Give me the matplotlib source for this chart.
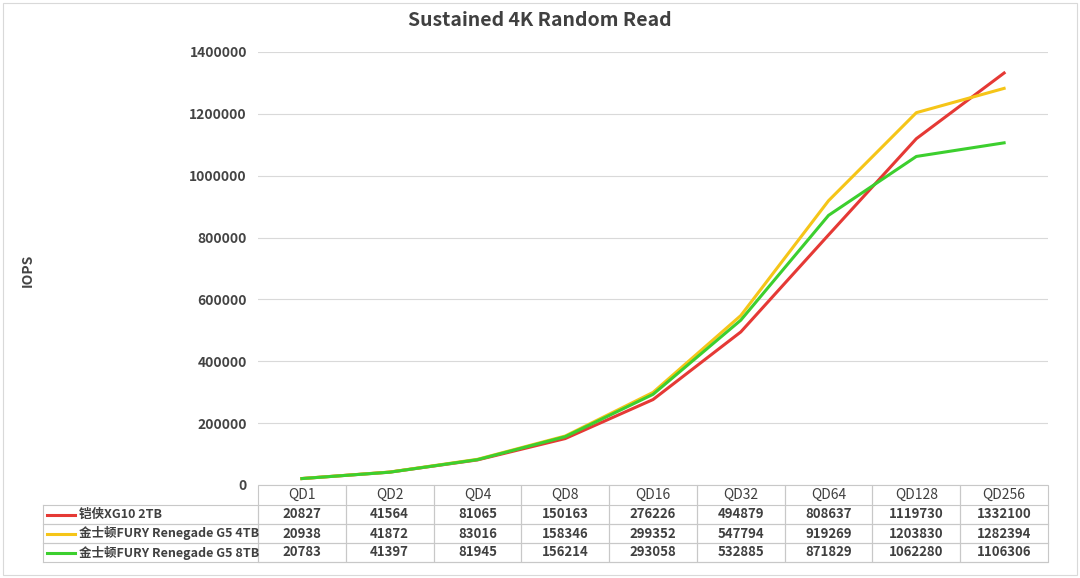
import matplotlib
matplotlib.use("Agg")
import matplotlib.pyplot as plt
import numpy as np

plt.rcParams['font.family'] = ['Noto Sans CJK SC', 'DejaVu Sans']

categories = ["QD1", "QD2", "QD4", "QD8", "QD16", "QD32", "QD64", "QD128", "QD256"]
names = ["铠侠XG10 2TB", "金士顿FURY Renegade G5 4TB", "金士顿FURY Renegade G5 8TB"]
xg10 = [20827, 41564, 81065, 150163, 276226, 494879, 808637, 1119730, 1332100]
g5_4tb = [20938, 41872, 83016, 158346, 299352, 547794, 919269, 1203830, 1282394]
g5_8tb = [20783, 41397, 81945, 156214, 293058, 532885, 871829, 1062280, 1106306]
colors = ["#e53935", "#f5c518", "#3ccf2e"]
series = [xg10, g5_4tb, g5_8tb]

fig = plt.figure(figsize=(10.8, 5.78), dpi=100)
W, H = 1080, 578
ax = fig.add_axes([258/W, 1-485/H, 790/W, 433/H])
x = np.arange(len(categories))
for s, c in zip(series, colors):
    ax.plot(x, s, color=c, lw=2.2)
ax.set_xlim(-0.5, len(categories)-0.5)
ax.set_ylim(0, 1400000)
ax.set_yticks(np.arange(0, 1400001, 200000))
ax.set_yticklabels([str(v) for v in range(0, 1400001, 200000)], fontsize=10, fontweight='bold', color='#444444')
ax.set_xticks([])
ax.grid(axis='y', color='#d9d9d9', lw=0.8)
ax.set_axisbelow(True)
for sp in ax.spines.values():
    sp.set_visible(False)
ax.tick_params(axis='y', length=0, pad=8)
fig.text(28/W, 1-270/H, "IOPS", rotation=90, ha='center', va='center', fontsize=10, fontweight='bold', color='#444444')
fig.text(540/W, 1-21/H, "Sustained 4K Random Read", ha='center', va='center', fontsize=14, fontweight='bold', color='#404040')

aw = 790.0
ah = 433.0
rowh = [20, 19, 19, 19]
tops = [485]
for h in rowh:
    tops.append(tops[-1] + h)
edge = '#c8c8c8'
def ax_y(py):
    return (485 - py) / ah
def ax_x(px):
    return (px - 258) / aw
for i, cat in enumerate(categories):
    x0 = 258 + i*aw/9
    ax.add_patch(plt.Rectangle((ax_x(x0), ax_y(tops[4])), (aw/9)/aw, (tops[4]-tops[0])/ah,
                               fill=False, ec=edge, lw=0.8, transform=ax.transAxes, clip_on=False))
    ax.text(ax_x(x0 + aw/18), ax_y((tops[0]+tops[1])/2), cat, transform=ax.transAxes,
            ha='center', va='center', fontsize=10, color='#404040', fontweight='medium', clip_on=False)
for r in range(3):
    ya, yb = tops[r+1], tops[r+2]
    for pxy in [ya, yb]:
        ax.plot([ax_x(43), 1], [ax_y(pxy)]*2, color=edge, lw=0.8, transform=ax.transAxes, clip_on=False)
    ym = ax_y((ya+yb)/2)
    ax.plot([ax_x(47), ax_x(75)], [ym, ym], color=colors[r], lw=2.2, transform=ax.transAxes, clip_on=False)
    ax.text(ax_x(79), ym, names[r], transform=ax.transAxes, ha='left', va='center',
            fontsize=9, fontweight='bold', color='#404040', clip_on=False)
    for i, v in enumerate(series[r]):
        ax.text(ax_x(258 + i*aw/9 + aw/18), ym, str(v), transform=ax.transAxes, ha='center', va='center',
                fontsize=9.5, fontweight='bold', color='#404040', clip_on=False)
for pxx in [43, 258]:
    ax.plot([ax_x(pxx)]*2, [ax_y(tops[1]), ax_y(tops[4])], color=edge, lw=0.8, transform=ax.transAxes, clip_on=False)

fig.patches.append(plt.Rectangle((3/W, 3/H), 1-6/W, 1-6/H, fill=False, ec='#d9d9d9', lw=0.8, transform=fig.transFigure))
fig.savefig("out.png", dpi=100)
